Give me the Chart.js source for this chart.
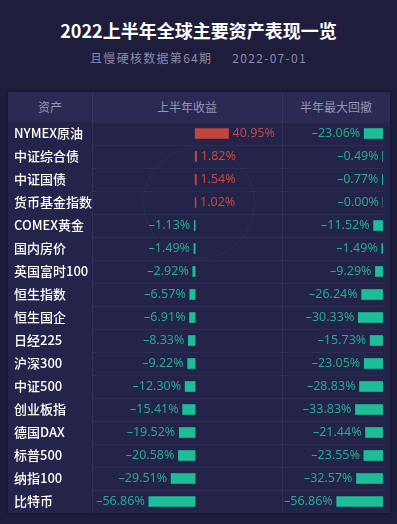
<!DOCTYPE html>
<html>
<head>
<meta charset="utf-8">
<script src="https://cdn.jsdelivr.net/npm/chart.js@4.4.0/dist/chart.umd.min.js"></script>
<style>
  html, body { margin: 0; padding: 0; }
  body { width: 397px; height: 524px; background: #1e1d3b; position: relative; overflow: hidden;
         font-family: "Noto Sans CJK SC", "Noto Sans", sans-serif; }
  .title { position: absolute; top: 17px; left: 0; width: 397px; text-align: center; color: #fff;
           font-size: 18px; font-weight: bold; line-height: 26px; }
  .sub { position: absolute; top: 49px; left: 0; width: 397px; text-align: center; color: #8b8aa9;
         font-size: 12px; letter-spacing: 1.3px; line-height: 18px; }
  .sub span { margin-left: 20px; }
  .panel { position: absolute; left: 8px; top: 92px; width: 382px; height: 421px; background: #24234a;
           box-shadow: 0 0 3px rgba(0,0,0,0.4); }
  .head { position: absolute; left: 0; top: 0; width: 382px; height: 30px; background: #2b2a54; }
  .head div { position: absolute; top: 0; line-height: 30px; color: #9695b5; font-size: 12px; text-align: center; }
  .vline { position: absolute; top: 0; width: 1px; height: 421px; background: rgba(255,255,255,0.06); }
  .mark { position: absolute; left: 135px; top: 55px; width: 110px; height: 110px; border-radius: 50%;
          border: 1px solid rgba(255,255,255,0.035); }
  canvas { position: absolute; }
</style>
</head>
<body>
<div class="title">2022上半年全球主要资产表现一览</div>
<div class="sub">且慢硬核数据第64期<span>2022-07-01</span></div>
<div class="panel">
  <div class="head">
    <div style="left:0;width:84px;">资产</div>
    <div style="left:84px;width:190px;">上半年收益</div>
    <div style="left:274px;width:108px;">半年最大回撤</div>
  </div>
  <div class="mark"></div>
  <div class="vline" style="left:84px;"></div>
  <div class="vline" style="left:274px;"></div>
</div>
<canvas id="retChart" width="274" height="391" style="left:8px;top:122px;"></canvas>
<canvas id="ddChart" width="108" height="391" style="left:282px;top:122px;"></canvas>
<script>
const assets = ['NYMEX原油', '中证综合债', '中证国债', '货币基金指数', 'COMEX黄金', '国内房价', '英国富时100',
  '恒生指数', '恒生国企', '日经225', '沪深300', '中证500', '创业板指', '德国DAX', '标普500', '纳指100', '比特币'];
const halfYearReturn = [40.95, 1.82, 1.54, 1.02, -1.13, -1.49, -2.92, -6.57, -6.91, -8.33, -9.22,
  -12.30, -15.41, -19.52, -20.58, -29.51, -56.86];
const maxDrawdown = [-23.06, -0.49, -0.77, -0.00, -11.52, -1.49, -9.29, -26.24, -30.33, -15.73, -23.05,
  -28.83, -33.83, -21.44, -23.55, -32.57, -56.86];

const RED = '#c1453d', RED_TXT = '#c5473f';
const GREEN = '#1dbd97', GREEN_TXT = '#27a88f';
const gridColor = 'rgba(255,255,255,0.045)';

// 막대 옆에 값 표시
const valueLabels = {
  id: 'valueLabels',
  afterDatasetsDraw(chart, args, opts) {
    const ctx = chart.ctx;
    const data = chart.data.datasets[0].data;
    ctx.save();
    ctx.font = '12.5px "Noto Sans", sans-serif';
    ctx.textBaseline = 'middle';
    chart.getDatasetMeta(0).data.forEach((bar, i) => {
      const v = data[i];
      const neg = opts.allNegative || v < 0;
      const txt = (neg ? '–' : '') + Math.abs(v).toFixed(2) + '%';
      if (neg) {
        ctx.textAlign = 'right';
        ctx.fillStyle = GREEN_TXT;
        ctx.fillText(txt, Math.min(bar.x, bar.base) - 4, bar.y);
      } else {
        ctx.textAlign = 'left';
        ctx.fillStyle = RED_TXT;
        ctx.fillText(txt, bar.x + 4, bar.y);
      }
    });
    ctx.restore();
  }
};

// y축 폭 고정 + 위아래 여백 제거
const fixAxis = (w) => (s) => { s.width = w; s.paddingTop = 0; s.paddingBottom = 0; };

const retChart = new Chart(document.getElementById('retChart'), {
  type: 'bar',
  data: {
    labels: assets,
    datasets: [{
      data: halfYearReturn,
      backgroundColor: halfYearReturn.map(v => v >= 0 ? RED : GREEN),
      barThickness: 10,
      borderWidth: 0
    }]
  },
  options: {
    indexAxis: 'y',
    responsive: false,
    animation: false,
    devicePixelRatio: 1,
    layout: { padding: { left: 6, right: 0, top: 0, bottom: 0 } },
    plugins: { legend: { display: false }, tooltip: { enabled: false }, valueLabels: {} },
    scales: {
      x: { display: false, min: -126.5, max: 106.5 },
      y: {
        afterFit: fixAxis(78),
        grid: { color: gridColor, drawTicks: false, offset: true },
        border: { display: false },
        ticks: {
          color: '#ffffff', crossAlign: 'far', padding: 0,
          font: { family: '"Noto Sans CJK SC", sans-serif', size: 13, weight: '500' }
        }
      }
    }
  },
  plugins: [valueLabels]
});

const ddChart = new Chart(document.getElementById('ddChart'), {
  type: 'bar',
  data: {
    labels: assets,
    datasets: [{
      data: maxDrawdown,
      backgroundColor: GREEN,
      barThickness: 10,
      borderWidth: 0
    }]
  },
  options: {
    indexAxis: 'y',
    responsive: false,
    animation: false,
    devicePixelRatio: 1,
    layout: { padding: { left: 0, right: 7, top: 0, bottom: 0 } },
    plugins: { legend: { display: false }, tooltip: { enabled: false }, valueLabels: { allNegative: true } },
    scales: {
      x: { display: false, min: -124, max: 0 },
      y: {
        afterFit: fixAxis(0),
        grid: { color: gridColor, drawTicks: false, offset: true },
        border: { display: false },
        ticks: { display: false }
      }
    }
  },
  plugins: [valueLabels]
});
</script>
</body>
</html>
